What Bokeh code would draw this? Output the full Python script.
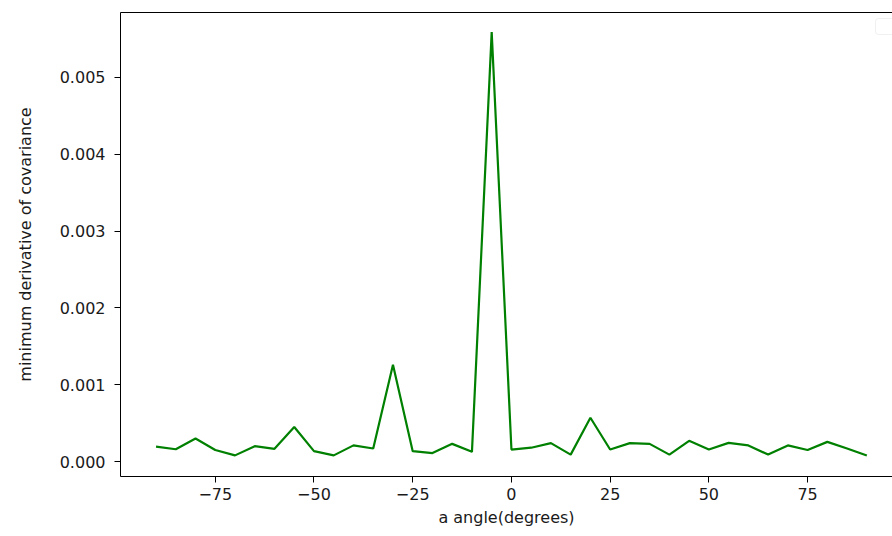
from bokeh.plotting import figure
from bokeh.models import (LinearAxis, FixedTicker, Range1d, BoxAnnotation,
                          PrintfTickFormatter)
from bokeh.embed import file_html
from bokeh.resources import INLINE

# angle sweep in degrees and the minimum covariance derivative at each angle
angles = [-90, -85, -80, -75, -70, -65, -60, -55, -50, -45, -40, -35, -30,
          -25, -20, -15, -10, -5, 0, 5, 10, 15, 20, 25, 30, 35, 40, 45, 50,
          55, 60, 65, 70, 75, 80, 85, 90]
min_deriv = [0.000195, 0.00016, 0.0003, 0.00015, 0.00008, 0.0002, 0.000165,
             0.00045, 0.000135, 0.00008, 0.00021, 0.00017, 0.00126, 0.000135,
             0.00011, 0.00023, 0.000126, 0.00559, 0.000156, 0.00018, 0.00024,
             0.00009, 0.00057, 0.000156, 0.00024, 0.00023, 0.00009, 0.00027,
             0.000156, 0.000243, 0.00021, 0.00009, 0.00021, 0.00015, 0.000256,
             0.00017, 0.000078]

x_ticks = [-75, -50, -25, 0, 25, 50, 75]
y_ticks = [0.0, 0.001, 0.002, 0.003, 0.004, 0.005]

FONT = "DejaVu Sans"
TICK_SIZE = "16px"
LABEL_SIZE = "16px"
TEXT_COLOR = "#1a1a1a"

p = figure(width=892, height=536, output_backend="svg", toolbar_location=None,
           x_range=Range1d(-99, 96.5), y_range=Range1d(-0.000195, 0.005846),
           min_border_left=120, min_border_right=0, min_border_top=12,
           min_border_bottom=60)
p.outline_line_color = None
p.grid.visible = False
p.background_fill_color = "white"
p.border_fill_color = "white"

p.line(angles, min_deriv, line_color="#008000", line_width=2.2)

for ax in (p.xaxis[0], p.yaxis[0]):
    ax.axis_line_color = "black"
    ax.axis_line_width = 1
    ax.major_tick_line_color = "black"
    ax.major_tick_out = 6
    ax.major_tick_in = 0
    ax.minor_tick_line_color = None
    ax.major_label_text_font = FONT
    ax.major_label_text_font_size = TICK_SIZE
    ax.major_label_text_color = TEXT_COLOR
    ax.axis_label_text_font = FONT
    ax.axis_label_text_font_size = LABEL_SIZE
    ax.axis_label_text_font_style = "normal"
    ax.axis_label_text_color = TEXT_COLOR

p.xaxis.ticker = FixedTicker(ticks=x_ticks)
p.xaxis.major_label_overrides = {t: (str(t).replace("-", "\u2212")) for t in x_ticks}
p.xaxis.axis_label = "a angle(degrees)"
p.xaxis.major_label_standoff = 5
p.xaxis.axis_label_standoff = 5

p.yaxis.ticker = FixedTicker(ticks=y_ticks)
p.yaxis.formatter = PrintfTickFormatter(format="%.3f")
p.yaxis.axis_label = "minimum derivative of covariance"
p.yaxis.major_label_standoff = 9
p.yaxis.axis_label_standoff = 22

# top spine
top = LinearAxis(ticker=FixedTicker(ticks=[]), axis_line_color="black",
                 major_tick_line_color=None, minor_tick_line_color=None,
                 major_label_text_color=None)
p.add_layout(top, "above")

# empty legend frame in the upper-right corner
p.add_layout(BoxAnnotation(left=875, right=900, top=18, bottom=34,
                           left_units="canvas", right_units="canvas",
                           top_units="canvas", bottom_units="canvas",
                           fill_color="white", fill_alpha=0.8,
                           line_color="#cccccc", line_width=1,
                           border_radius=3))

open("out.html", "w").write(file_html(p, INLINE))
